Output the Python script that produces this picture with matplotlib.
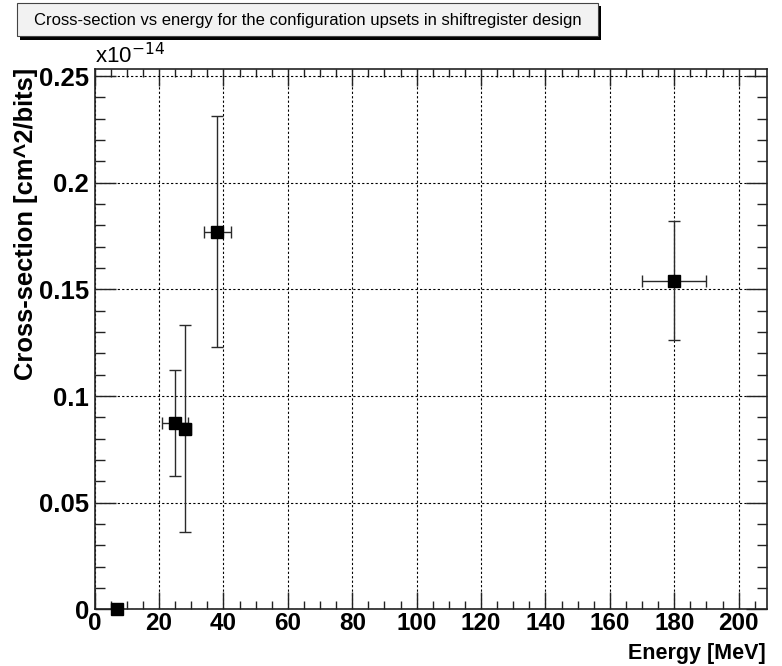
import matplotlib
matplotlib.use("Agg")
import matplotlib.pyplot as plt
from matplotlib.ticker import MultipleLocator
from matplotlib.patches import Rectangle

# Beam energies [MeV] and their spreads
energy = [7.0, 25.0, 28.2, 38.0, 180.0]
energy_err = [0.0, 4.0, 1.7, 4.2, 10.0]
# Cross-sections, in units of 1e-14 cm^2/bit
xsec = [0.0, 0.0874, 0.0847, 0.1771, 0.1541]
xsec_err = [0.0, 0.0248, 0.0486, 0.0541, 0.0279]

xticks = list(range(0, 201, 20))
yticks = [0, 0.05, 0.1, 0.15, 0.2, 0.25]
ytick_labels = ['0', '0.05', '0.1', '0.15', '0.2', '0.25']

title = "Cross-section vs energy for the configuration upsets in shiftregister design"
xlabel = "Energy [MeV]"
ylabel = "Cross-section [cm^2/bits]"

plt.rcParams['font.family'] = ['Liberation Sans', 'DejaVu Sans']

fig = plt.figure(figsize=(7.82, 6.66), dpi=100)
fig.patch.set_facecolor('white')

W, H = 782, 666
ax = fig.add_axes([94.7 / W, 1 - 609.4 / H, (767 - 94.7) / W, (609.4 - 69) / H])

ax.errorbar(energy, xsec, xerr=energy_err, yerr=xsec_err, fmt='s',
            color='black', ecolor='#2a2a2a', elinewidth=1.0, capsize=4,
            capthick=1.0, markersize=8, clip_on=False, zorder=3)

ax.set_xlim(0, 208.8)
ax.set_ylim(0, 0.2533)

ax.xaxis.set_minor_locator(MultipleLocator(5))
ax.yaxis.set_minor_locator(MultipleLocator(0.01))
ax.set_xticks(xticks)
ax.set_xticklabels([str(v) for v in xticks])
ax.set_yticks(yticks)
ax.set_yticklabels(ytick_labels)

ax.grid(True, which='major', color='black', linestyle=(0, (2, 2)), linewidth=0.8)

ax.tick_params(axis='both', which='both', direction='in', top=True, right=True,
               width=1.0, color='#222222')
ax.tick_params(axis='x', which='major', length=12.5, pad=2)
ax.tick_params(axis='x', which='minor', length=6)
ax.tick_params(axis='y', which='major', length=15, pad=4)
ax.tick_params(axis='y', which='minor', length=7.5)

for lab in ax.get_xticklabels():
    lab.set_fontsize(17.5)
    lab.set_fontweight('bold')
for lab in ax.get_yticklabels():
    lab.set_fontsize(18.5)
    lab.set_fontweight('bold')

for sp in ax.spines.values():
    sp.set_linewidth(1.2)
    sp.set_color('#222222')

ax.set_xlabel(xlabel, fontsize=15.5, fontweight='bold')
ax.xaxis.set_label_coords(0.9985, -0.062)
ax.xaxis.label.set_horizontalalignment('right')
ax.set_ylabel(ylabel, fontsize=18.4, fontweight='bold')
ax.yaxis.set_label_coords(-0.085, 1.002)
ax.yaxis.label.set_horizontalalignment('right')

# exponent of the y axis
fig.text(95 / W, 1 - 63 / H, r'x10$^{-14}$', fontsize=16, ha='left', va='baseline')

# title box with drop shadow
fig.patches.append(Rectangle((19.5 / W, 1 - 39.5 / H), 581 / W, 33 / H,
                             transform=fig.transFigure, facecolor='black',
                             edgecolor='none', zorder=1))
fig.patches.append(Rectangle((16.5 / W, 1 - 36 / H), 581 / W, 33 / H,
                             transform=fig.transFigure, facecolor='#f2f2f2',
                             edgecolor='#444444', linewidth=0.8, zorder=2))
fig.text(308 / W, 1 - 20 / H, title, fontsize=12, ha='center', va='center', zorder=3)

fig.savefig('out.png', dpi=100)
